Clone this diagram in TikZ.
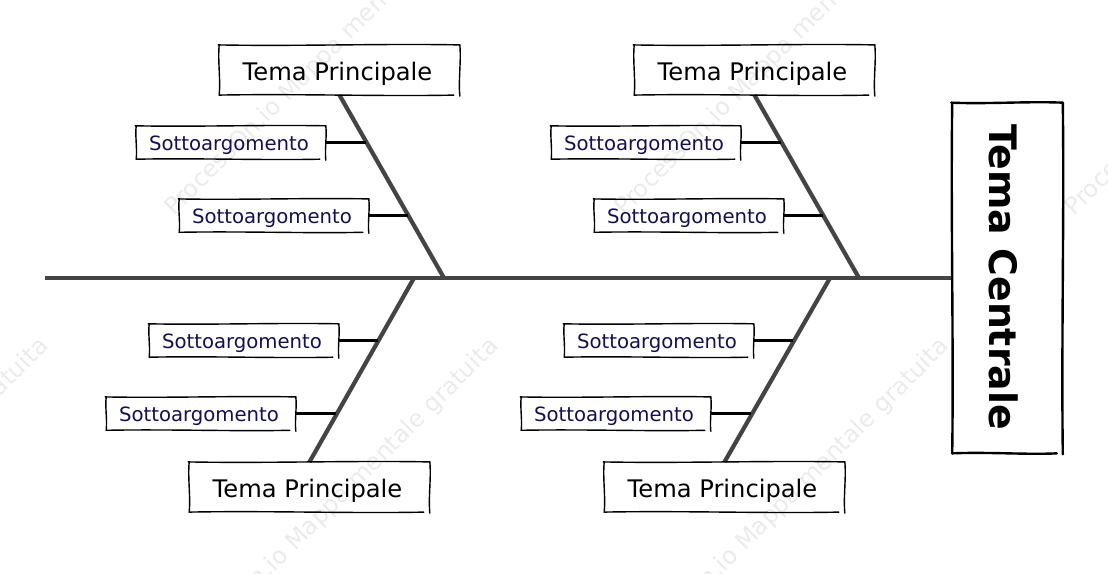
\documentclass[tikz,border=0pt]{standalone}
\usepackage{fontspec}
\setmainfont{DejaVu Sans}
\usetikzlibrary{calc}

\definecolor{bonegray}{HTML}{444444}
\definecolor{subink}{HTML}{14104F}
\definecolor{markgray}{HTML}{EBEBEB}

\tikzset{
  tema/.style={minimum width=6cm, minimum height=1.24cm, inner sep=0pt, text height=0.5cm, text depth=0pt, execute at begin node=\hspace*{-0.1cm}, font=\fontsize{17.2}{20}\selectfont},
  sub/.style={minimum width=4.725cm, minimum height=0.82cm, inner sep=0pt, text height=0.41cm, text depth=0pt, execute at begin node=\hspace*{-0.1cm}, font=\fontsize{14}{17}\selectfont, text=subink},
  centrale/.style={minimum width=2.75cm, minimum height=8.75cm, inner sep=0pt},
  bone/.style={draw=bonegray, line width=3pt},
  twig/.style={draw=black, line width=2pt},
  pen/.style={draw=black, line width=1pt, line cap=round},
  watermark/.style={text=markgray, rotate=45, anchor=base west, inner sep=0pt, font=\fontsize{17}{20}\selectfont}
}

% hand drawn outline round a named node
\newcommand{\wobble}[3]{($(#1)!0.33!(#2)+#3$) and ($(#1)!0.68!(#2)-#3$)}
\newcommand{\sketchbox}[3][pen]{
  \draw[#1] ($(#2.north west)+(-1,0)$) .. controls \wobble{#2.north west}{#2.north east}{(0,#3)} .. (#2.north east);
  \draw[#1] (#2.north east) .. controls \wobble{#2.north east}{#2.south east}{(#3,0)} .. ($(#2.south east)+(0,1)$);
  \draw[#1] (#2.south west) .. controls \wobble{#2.south west}{#2.south east}{(0,-#3)} .. ($(#2.south east)+(-6,0)$);
  \draw[#1] (#2.north west) .. controls \wobble{#2.north west}{#2.south west}{(-#3,0)} .. (#2.south west);
}

\begin{document}
\begin{tikzpicture}[x=0.025cm, y=-0.025cm]
\pgfdeclarelayer{background}
\pgfsetlayers{background,main}

\useasboundingbox (0,0) rectangle (1108,573);

\path (1007.5,278) node (centre) [centrale] {};
\path (1004,277) node (centretext) [rotate=-90, font=\fontsize{26.9}{30}\selectfont\bfseries] {Tema Centrale};

\path (339.5,70) node (tema1) [tema] {Tema Principale};
\path (754.5,70) node (tema2) [tema] {Tema Principale};
\path (309.5,487) node (tema3) [tema] {Tema Principale};
\path (724.5,487) node (tema4) [tema] {Tema Principale};

\path (231,142.5) node (sub1) [sub] {Sottoargomento};
\path (274,215.6) node (sub2) [sub] {Sottoargomento};
\path (646,142.5) node (sub3) [sub] {Sottoargomento};
\path (689,215.6) node (sub4) [sub] {Sottoargomento};
\path (244,340.5) node (sub5) [sub] {Sottoargomento};
\path (201,413.6) node (sub6) [sub] {Sottoargomento};
\path (659,340.5) node (sub7) [sub] {Sottoargomento};
\path (616,413.6) node (sub8) [sub] {Sottoargomento};

\coordinate (tail) at (45,278);
\coordinate (joint1) at (444,278);
\coordinate (joint2) at (859,278);
\coordinate (joint3) at (414,278);
\coordinate (joint4) at (830,278);

\draw[bone] (tail) -- (centre.west);
\draw[bone] (tema1.south) -- (joint1);
\draw[bone] (tema2.south) -- (joint2);
\draw[bone] (tema3.north) -- (joint3);
\draw[bone] (tema4.north) -- (joint4);

\coordinate (twig1) at (366,142.5);
\coordinate (twig2) at (408,215.6);
\coordinate (twig3) at (781,142.5);
\coordinate (twig4) at (823,215.6);
\coordinate (twig5) at (378,340.5);
\coordinate (twig6) at (336,413.6);
\coordinate (twig7) at (793,340.5);
\coordinate (twig8) at (751,413.6);

\foreach \n in {1,...,8}
  \draw[twig] (sub\n.east) -- (twig\n);

\foreach \n in {tema1,tema2,tema3,tema4}
  \sketchbox{\n}{1.5};
\foreach \n in {sub1,sub2,sub3,sub4,sub5,sub6,sub7,sub8}
  \sketchbox{\n}{1.2};
\sketchbox[pen, line width=1.7pt]{centre}{1.5};

\begin{pgfonlayer}{background}
    \clip (0,0) rectangle (1108,573);
    \path (174,217) node (mark1) [watermark] {ProcessOn.io Mappa mentale gratuita};
    \path (624,217) node (mark2) [watermark] {ProcessOn.io Mappa mentale gratuita};
    \path (1074,217) node (mark3) [watermark] {ProcessOn.io Mappa mentale gratuita};
    \path (-269,666) node (mark4) [watermark] {ProcessOn.io Mappa mentale gratuita};
    \path (181,666) node (mark5) [watermark] {ProcessOn.io Mappa mentale gratuita};
    \path (631,666) node (mark6) [watermark] {ProcessOn.io Mappa mentale gratuita};
\end{pgfonlayer}

\end{tikzpicture}
\end{document}
